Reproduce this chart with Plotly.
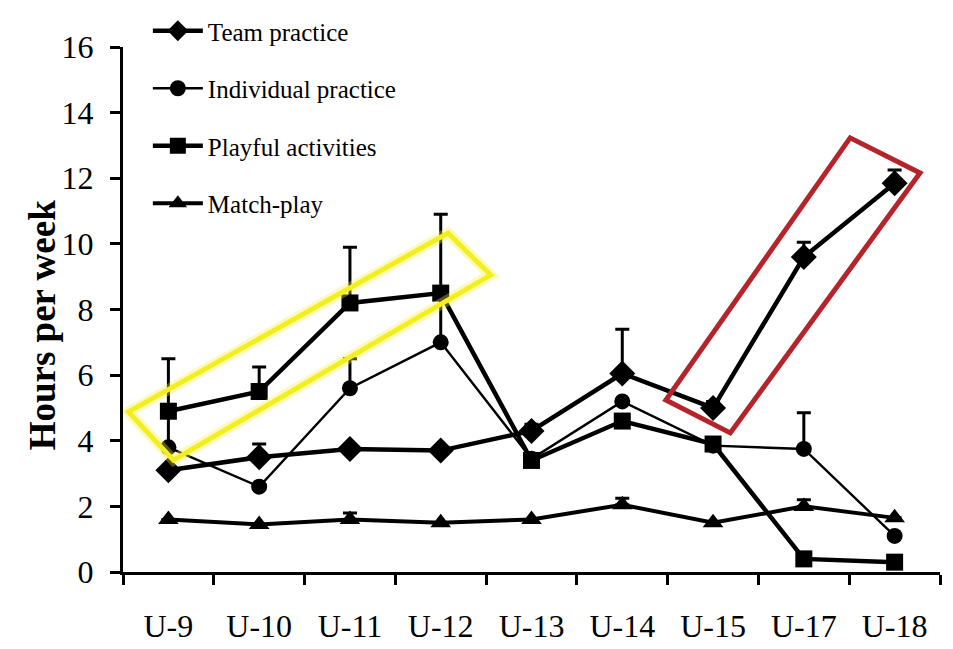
import plotly.graph_objects as go

# ---- data ----
categories = ["U-9", "U-10", "U-11", "U-12", "U-13", "U-14", "U-15", "U-17", "U-18"]

team_practice = [3.1, 3.5, 3.75, 3.7, 4.3, 6.05, 5.0, 9.6, 11.85]
team_practice_err = [0, 0.4, 0, 0, 0.2, 1.35, 0.2, 0.45, 0.4]

individual_practice = [3.8, 2.6, 5.6, 7.0, 3.45, 5.2, 3.85, 3.75, 1.1]
individual_practice_err = [1.0, 0, 0.9, 1.4, 0, 0, 0, 1.1, 0]

playful_activities = [4.9, 5.5, 8.2, 8.5, 3.4, 4.6, 3.9, 0.4, 0.3]
playful_activities_err = [1.6, 0.75, 1.7, 2.4, 0, 0, 0, 0, 0]

match_play = [1.6, 1.45, 1.6, 1.5, 1.6, 2.05, 1.5, 2.0, 1.65]
match_play_err = [0, 0, 0.2, 0, 0, 0.2, 0, 0.2, 0]

y_ticks = [0, 2, 4, 6, 8, 10, 12, 14, 16]

FONT = "Liberation Serif"

fig = go.Figure()

def add_series(name, values, errs, symbol, msize, lwidth, group):
    fig.add_trace(go.Scatter(
        x=categories, y=values, name=name, mode="lines+markers",
        line=dict(color="black", width=lwidth),
        marker=dict(symbol=symbol, size=msize, color="black"),
        error_y=dict(type="data", array=errs, arrayminus=[0] * len(errs),
                     symmetric=False, color="black", thickness=3, width=7),
        legendgroup=group,
    ))

add_series("Team practice", team_practice, team_practice_err, "diamond", 20, 4.5, "a")
add_series("Individual practice", individual_practice, individual_practice_err, "circle", 16, 2.4, "b")
add_series("Playful activities", playful_activities, playful_activities_err, "square", 17, 4.5, "c")
add_series("Match-play", match_play, match_play_err, "triangle-up", 18, 4, "d")

# highlight boxes (decoration, in axis units)
yellow_box = [(-0.44, 4.88), (0.055, 3.41), (3.55, 9.05), (3.08, 10.33)]
red_box = [(5.48, 5.24), (6.19, 4.24), (8.28, 12.16), (7.51, 13.23)]

def box_path(pts):
    return "M " + " L ".join(f"{x},{y}" for x, y in pts) + " Z"

fig.add_shape(type="path", path=box_path(yellow_box), xref="x", yref="y",
              line=dict(color="rgba(245,240,60,0.35)", width=11), layer="above")
fig.add_shape(type="path", path=box_path(yellow_box), xref="x", yref="y",
              line=dict(color="#f3ef1e", width=5), layer="above")
fig.add_shape(type="path", path=box_path(red_box), xref="x", yref="y",
              line=dict(color="#b5232b", width=5), layer="above")

# y-axis title as rotated text
fig.add_annotation(text="<b>Hours per week</b>", xref="paper", yref="paper",
                   x=-0.099, y=0.47, xanchor="center", yanchor="middle",
                   textangle=-90, showarrow=False,
                   font=dict(family=FONT, size=37, color="black"))

fig.update_layout(
    width=945, height=641,
    margin=dict(l=115, r=13, t=39, b=77, autoexpand=False),
    paper_bgcolor="white", plot_bgcolor="white",
    font=dict(family=FONT, color="black"),
    showlegend=True,
    legend=dict(xref="container", yref="container",
                x=0.148, y=1.0, xanchor="left", yanchor="top",
                font=dict(family=FONT, size=25, color="black"),
                bgcolor="rgba(0,0,0,0)", tracegroupgap=22,
                itemwidth=50),
    xaxis=dict(
        type="category", range=[-0.5, 8.5], tickson="boundaries",
        ticks="outside", ticklen=10, tickwidth=3, tickcolor="black",
        showline=True, linecolor="black", linewidth=3,
        showgrid=False, zeroline=False, automargin=False,
        ticklabelstandoff=24,
        tickfont=dict(family=FONT, size=32, color="black"),
    ),
    yaxis=dict(
        range=[0, 16], tickvals=y_ticks,
        ticks="outside", ticklen=10, tickwidth=3, tickcolor="black",
        showline=True, linecolor="black", linewidth=3,
        showgrid=False, zeroline=False, automargin=False,
        ticklabelstandoff=10,
        tickfont=dict(family=FONT, size=32, color="black"),
    ),
)

fig.write_html("out.html")
